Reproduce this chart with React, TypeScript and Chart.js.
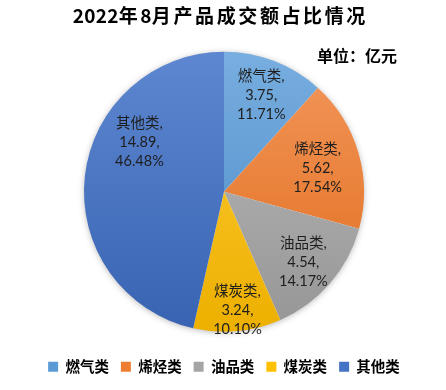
import React, { useEffect, useRef } from "react";
import { Chart, registerables } from "chart.js";

Chart.register(...registerables);

const categories = ["燃气类", "烯烃类", "油品类", "煤炭类", "其他类"];
const values = [3.75, 5.62, 4.54, 3.24, 14.89];
const percentLabels = ["11.71%", "17.54%", "14.17%", "10.10%", "46.48%"];
const titleText = "2022年8月产品成交额占比情况";
const unitText = "单位：亿元";

const baseColors = ["#5B9BD5", "#ED7D31", "#A5A5A5", "#FFC000", "#4472C4"];
const topColors = ["#78AEE0", "#F3975B", "#BBBBBB", "#FFCD3A", "#5D87D0"];
const bottomColors = ["#4888C4", "#E06C1C", "#969696", "#EDB000", "#3863B2"];

const PIE_RADIUS = 140;

const labelPlugin = {
  id: "sliceLabels",
  afterDatasetsDraw(chart: any) {
    const meta = chart.getDatasetMeta(0);
    const ctx = chart.ctx;
    const radFrac = [0.74, 0.69, 0.76, 0.85, 0.7];
    const shiftDeg = [0, 2, 1, -1, 24];
    ctx.save();
    ctx.fillStyle = "#1e1e1e";
    ctx.font = '14.5px Lato, "Noto Sans CJK SC"';
    ctx.textAlign = "center";
    ctx.textBaseline = "middle";
    meta.data.forEach((arc: any, i: number) => {
      const p = arc.getProps(["x", "y", "startAngle", "endAngle", "outerRadius"], true);
      const mid = (p.startAngle + p.endAngle) / 2 + (shiftDeg[i] * Math.PI) / 180;
      const r = p.outerRadius * radFrac[i];
      const cx = p.x + Math.cos(mid) * r;
      const cy = p.y + Math.sin(mid) * r;
      const lines = [categories[i] + ",", values[i].toFixed(2) + ",", percentLabels[i]];
      const lh = 19;
      lines.forEach((t, k) => {
        ctx.fillText(t, cx, cy + (k - 1) * lh);
      });
    });
    ctx.restore();
  },
};

const shadowPlugin = {
  id: "pieShadow",
  beforeDatasetsDraw(chart: any) {
    const meta = chart.getDatasetMeta(0);
    const arc = meta.data[0];
    if (!arc) return;
    const p = arc.getProps(["x", "y", "outerRadius"], true);
    const ctx = chart.ctx;
    ctx.save();
    ctx.shadowColor = "rgba(0,0,0,0.35)";
    ctx.shadowBlur = 7;
    ctx.shadowOffsetX = 0;
    ctx.shadowOffsetY = 1;
    ctx.beginPath();
    ctx.arc(p.x, p.y, p.outerRadius - 1, 0, Math.PI * 2);
    ctx.fillStyle = "#ffffff";
    ctx.fill();
    ctx.restore();
  },
};

const titlePlugin = {
  id: "titles",
  afterDraw(chart: any) {
    const ctx = chart.ctx;
    ctx.save();
    ctx.fillStyle = "#000000";
    ctx.textBaseline = "middle";
    ctx.textAlign = "left";
    ctx.font = 'bold 19px "Noto Sans CJK SC"';
    const chars = Array.from(titleText);
    const isCJK = (ch: string) => /[\u3000-\u9fff\uff00-\uffef]/.test(ch);
    const adv = chars.map((ch) => ctx.measureText(ch).width + (isCJK(ch) ? 2.6 : 0.3));
    const total = adv.reduce((a, b) => a + b, 0) - 2.6;
    let x = 219 - total / 2;
    chars.forEach((ch, k) => {
      ctx.fillText(ch, x, 16);
      x += adv[k];
    });
    ctx.font = 'bold 16px "Noto Sans CJK SC"';
    ctx.fillText(unitText, 317, 56);
    ctx.restore();
  },
};

export default function App() {
  const canvasRef = useRef<HTMLCanvasElement | null>(null);

  useEffect(() => {
    document.body.style.margin = "0";
    const canvas = canvasRef.current;
    if (!canvas) return;
    const chart = new Chart(canvas, {
      type: "pie",
      data: {
        labels: categories,
        datasets: [
          {
            data: values,
            borderWidth: 0,
            backgroundColor: (c: any) => {
              const chartObj = c.chart;
              const area = chartObj.chartArea;
              const i = c.dataIndex;
              if (!area || i === undefined) return baseColors[i ?? 0];
              const cy = (area.top + area.bottom) / 2;
              const g = chartObj.ctx.createLinearGradient(0, cy - PIE_RADIUS, 0, cy + PIE_RADIUS);
              g.addColorStop(0, topColors[i]);
              g.addColorStop(1, bottomColors[i]);
              return g;
            },
          },
        ],
      },
      options: {
        animation: false,
        responsive: false,
        radius: PIE_RADIUS,
        layout: { padding: { top: 36, bottom: 6, left: 2, right: 0 } },
        plugins: {
          title: { display: false },
          tooltip: { enabled: false },
          legend: {
            position: "bottom",
            labels: {
              boxWidth: 10,
              boxHeight: 10,
              padding: 12,
              color: "#000000",
              font: { family: '"Noto Sans CJK SC"', size: 14.5, weight: "bold" },
              generateLabels: () =>
                categories.map((name, i) => ({
                  text: name,
                  fillStyle: baseColors[i],
                  strokeStyle: baseColors[i],
                  lineWidth: 0,
                  hidden: false,
                  index: i,
                  fontColor: "#000000",
                })),
            },
          },
        },
      } as any,
      plugins: [shadowPlugin, labelPlugin, titlePlugin],
    });
    return () => chart.destroy();
  }, []);

  return (
    <div style={{ width: 446, height: 390 }}>
      <canvas ref={canvasRef} width={446} height={390} style={{ display: "block" }} />
    </div>
  );
}
